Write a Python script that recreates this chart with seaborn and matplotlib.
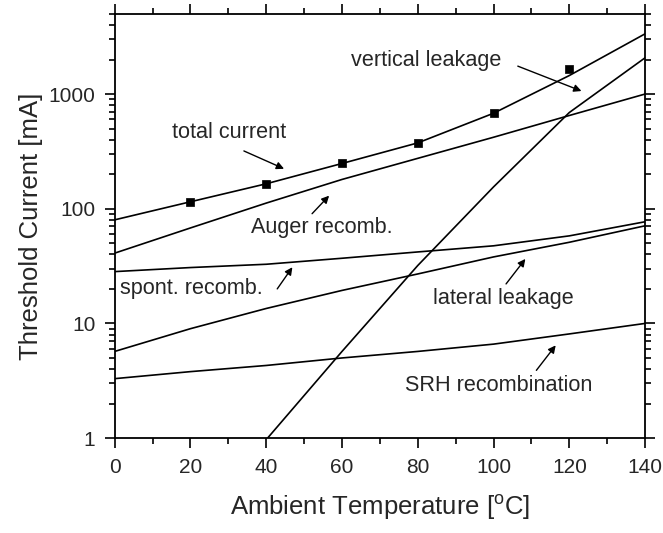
import numpy as np
import pandas as pd
import matplotlib
matplotlib.use("Agg")
import matplotlib.pyplot as plt
import seaborn as sns
from matplotlib.ticker import MultipleLocator, LogLocator, NullFormatter

# Values
temps = [0, 20, 40, 60, 80, 100, 120, 140]
total_current = [80, 115, 165, 248, 375, 680, 1450, 3350]
auger = [41, 68, 112, 180, 275, 420, 650, 1000]
spont = [28.3, 30.7, 32.8, 37, 42, 47.5, 58, 77]
lateral = [5.7, 9.0, 13.5, 19.4, 27, 38, 51, 71]
srh = [3.3, 3.8, 4.3, 5.0, 5.7, 6.6, 8.1, 10]
vert_temps = [40, 60, 80, 100, 120, 140]
vertical = [0.97, 5.7, 32, 155, 690, 2070]

meas_temps = [20, 40, 60, 80, 100, 120]
meas_current = [115, 165, 250, 375, 685, 1650]

xticks = [0, 20, 40, 60, 80, 100, 120, 140]
yticks = [1, 10, 100, 1000]
ytick_labels = ["1", "10", "100", "1000"]

sns.set_style("ticks")
plt.rcParams["font.family"] = ["Liberation Sans", "DejaVu Sans"]
plt.rcParams["mathtext.fontset"] = "custom"
plt.rcParams["mathtext.rm"] = "Liberation Sans"

fig = plt.figure(figsize=(6.63, 5.33), dpi=100)
ax = fig.add_axes([0.173, 0.178, 0.800, 0.796])
ax.set_yscale("log")

curves = {
    "total": (temps, total_current),
    "auger": (temps, auger),
    "spont": (temps, spont),
    "lateral": (temps, lateral),
    "srh": (temps, srh),
    "vertical": (vert_temps, vertical),
}
for name, (xs, ys) in curves.items():
    sns.lineplot(x=xs, y=ys, ax=ax, color="black", linewidth=1.2,
                 legend=False)

sns.scatterplot(x=meas_temps, y=meas_current, ax=ax, marker="s", s=40,
                color="black", edgecolor="black", zorder=5, legend=False)

ax.set_xlim(0, 140)
ax.set_ylim(1, 5000)
ax.set_xticks(xticks)
ax.xaxis.set_minor_locator(MultipleLocator(10))
ax.set_yticks(yticks)
ax.set_yticklabels(ytick_labels)
ax.yaxis.set_minor_locator(LogLocator(base=10, subs=np.arange(2, 10)))
ax.yaxis.set_minor_formatter(NullFormatter())

ax.tick_params(which="both", direction="out", top=True, right=True,
               width=1.2, labelsize=15, color="black")
ax.tick_params(which="major", length=7, pad=7)
ax.tick_params(which="minor", length=4)
for sp in ax.spines.values():
    sp.set_linewidth(1.3)
    sp.set_color("black")

ax.set_xlabel(r"Ambient Temperature [$^{\mathrm{o}}$C]", fontsize=18.5,
              labelpad=11)
ax.set_ylabel("Threshold Current [mA]", fontsize=18.5, labelpad=4)

# annotations: text and arrows
fs = 15.6
ax.text(62.4, 1977, "vertical leakage", fontsize=fs, va="center")
ax.text(15.1, 458, "total current", fontsize=fs, va="center")
ax.text(36, 68, "Auger recomb.", fontsize=fs, va="center")
ax.text(1.5, 20.2, "spont. recomb.", fontsize=fs, va="center")
ax.text(83.9, 16.5, "lateral leakage", fontsize=fs, va="center")
ax.text(76.5, 2.89, "SRH recombination", fontsize=fs, va="center")

arrows = [
    ((123.2, 1062), (106.4, 1751)),
    ((44.7, 223), (34.1, 319)),
    ((56.6, 130), (52.1, 90.5)),
    ((46.9, 30.9), (42.9, 20)),
    ((108.4, 36.5), (103.3, 22.1)),
    ((116.4, 6.44), (111.3, 3.9)),
]
for head, tail in arrows:
    ax.annotate("", xy=head, xytext=tail,
                arrowprops=dict(arrowstyle="-|>", color="black", lw=1.0,
                                mutation_scale=11, shrinkA=0, shrinkB=0))

fig.savefig("out.png", dpi=100)
